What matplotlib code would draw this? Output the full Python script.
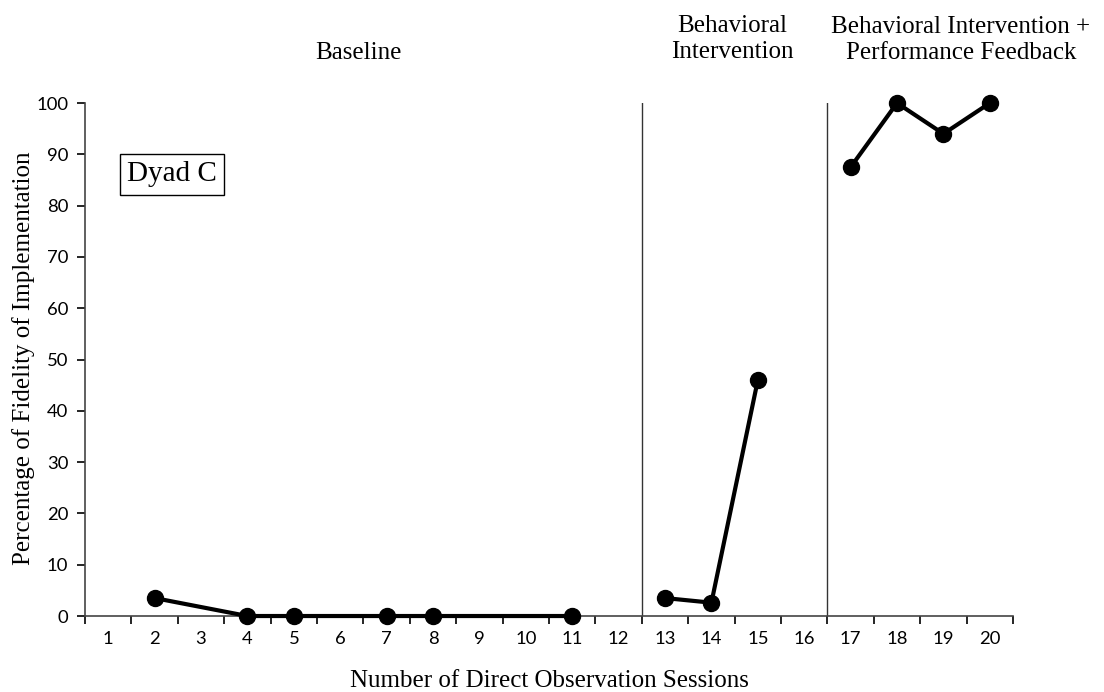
import matplotlib.pyplot as plt

# session numbers and fidelity percentages for each phase
sessions = list(range(1, 21))
baseline_x = [2, 4, 5, 7, 8, 11]
baseline_y = [3.5, 0, 0, 0, 0, 0]
bi_x = [13, 14, 15]
bi_y = [3.5, 2.6, 46]
bipf_x = [17, 18, 19, 20]
bipf_y = [87.5, 100, 94, 100]

phase_breaks = [12.5, 16.5]
phase_labels = ["Baseline", "Behavioral\nIntervention",
                "Behavioral Intervention +\nPerformance Feedback"]

serif = "Liberation Serif"

fig = plt.figure(figsize=(11.04, 6.92), dpi=100)
ax = fig.add_axes([0.077, 0.1098, 0.8406, 0.7413])

for xs, ys in [(baseline_x, baseline_y), (bi_x, bi_y), (bipf_x, bipf_y)]:
    ax.plot(xs, ys, color='black', lw=3.0, marker='o', markersize=11.5,
            clip_on=False, zorder=3)

for b in phase_breaks:
    ax.axvline(b, color='#333333', lw=1.0, ymin=0, ymax=1)

ax.set_xlim(0.5, 20.5)
ax.set_ylim(0, 100)
ax.set_yticks(range(0, 101, 10))

# category labels centred, tick marks on boundaries
ax.set_xticks(sessions)
ax.set_xticklabels([str(s) for s in sessions], family="Lato", fontsize=13.3)
ax.set_xticks([s + 0.5 for s in range(0, 21)], minor=True)
ax.tick_params(axis='x', which='major', length=0, pad=11)
ax.tick_params(axis='x', which='minor', length=6, width=1.2, direction='out')
ax.tick_params(axis='y', length=6, width=1.2, labelsize=13.3, pad=6)
for lab in ax.get_yticklabels():
    lab.set_family("Lato")

for side in ['top', 'right']:
    ax.spines[side].set_visible(False)
for side in ['left', 'bottom']:
    ax.spines[side].set_linewidth(1.2)
    ax.spines[side].set_color('#444444')

ax.set_xlabel("Number of Direct Observation Sessions", family=serif,
              fontsize=18)
ax.xaxis.set_label_coords(0.5, -0.106)
fig.text(0.021, 0.483, "Percentage of Fidelity of Implementation", family=serif,
         fontsize=18, rotation=90, ha='center', va='center')

ax.text(0.094, 0.861, "Dyad C", transform=ax.transAxes, family=serif,
        fontsize=21, ha='center', va='center',
        bbox=dict(boxstyle='square,pad=0.25', fc='white', ec='black', lw=1))

fig.text(358 / 1104, 1 - 53 / 692, phase_labels[0], family=serif,
         fontsize=18, ha='center', va='center')
fig.text(732 / 1104, 1 - 39 / 692, phase_labels[1], family=serif,
         fontsize=18, ha='center', va='center', linespacing=1.2)
fig.text(961 / 1104, 1 - 40 / 692, phase_labels[2], family=serif,
         fontsize=18, ha='center', va='center', linespacing=1.2)

fig.savefig("out.png", dpi=100)
